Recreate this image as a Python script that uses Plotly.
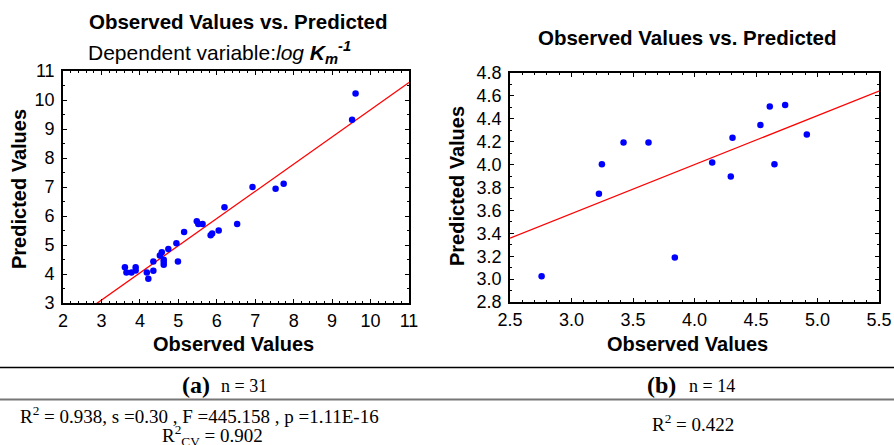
import numpy as np
import plotly.graph_objects as go

# ---- data (a) ----
obs_a = [3.61, 3.65, 3.78, 3.89, 3.89, 4.18, 4.22, 4.35, 4.35, 4.52, 4.57, 4.62, 4.62, 4.62,
         4.74, 4.95, 4.99, 5.15, 5.48, 5.52, 5.63, 5.84, 5.88, 6.05, 6.20, 6.53, 6.93, 7.53,
         7.74, 9.52, 9.61]
pred_a = [4.23, 4.05, 4.05, 4.23, 4.12, 4.05, 3.84, 4.43, 4.11, 4.64, 4.75, 4.49, 4.41, 4.32,
          4.86, 5.06, 4.43, 5.45, 5.82, 5.72, 5.72, 5.34, 5.40, 5.50, 6.30, 5.72, 7.00, 6.94,
          7.11, 9.32, 10.22]
xticks_a = [2, 3, 4, 5, 6, 7, 8, 9, 10, 11]
yticks_a = [3, 4, 5, 6, 7, 8, 9, 10, 11]

# ---- data (b) ----
obs_b = [2.757, 3.223, 3.247, 3.423, 3.626, 3.840, 4.144, 4.295, 4.309, 4.536, 4.612, 4.650,
         4.737, 4.913]
pred_b = [3.025, 3.746, 4.003, 4.193, 4.193, 3.188, 4.018, 3.895, 4.234, 4.345, 4.508, 4.003,
          4.520, 4.263]
xticks_b = [2.5, 3.0, 3.5, 4.0, 4.5, 5.0, 5.5]
yticks_b = [2.8, 3.0, 3.2, 3.4, 3.6, 3.8, 4.0, 4.2, 4.4, 4.6, 4.8]

W, H = 894, 445
SANS = "Liberation Sans, Arial, sans-serif"
SERIF = "Liberation Serif, Times New Roman, serif"

ka, ba = np.polyfit(obs_a, pred_a, 1)
kb, bb = np.polyfit(obs_b, pred_b, 1)
lx_a = np.array([xticks_a[0], xticks_a[-1]])
lx_b = np.array([xticks_b[0], xticks_b[-1]])

fig = go.Figure()
fig.add_trace(go.Scatter(x=lx_a, y=ka * lx_a + ba, mode="lines",
                         line=dict(color="#ff0000", width=1.3), xaxis="x", yaxis="y",
                         showlegend=False, hoverinfo="skip"))
fig.add_trace(go.Scatter(x=obs_a, y=pred_a, mode="markers",
                         marker=dict(color="#0000ff", size=6.5), xaxis="x", yaxis="y",
                         showlegend=False, cliponaxis=False))
fig.add_trace(go.Scatter(x=lx_b, y=kb * lx_b + bb, mode="lines",
                         line=dict(color="#ff0000", width=1.3), xaxis="x2", yaxis="y2",
                         showlegend=False, hoverinfo="skip"))
fig.add_trace(go.Scatter(x=obs_b, y=pred_b, mode="markers",
                         marker=dict(color="#0000ff", size=6.5), xaxis="x2", yaxis="y2",
                         showlegend=False, cliponaxis=False))

def px(x):
    return x / W

def py(y):
    return 1 - y / H

common = dict(showline=True, linecolor="black", linewidth=1.6, mirror="ticks",
              ticks="inside", ticklen=4, tickwidth=1.2, tickcolor="black",
              showgrid=False, zeroline=False, fixedrange=True, automargin=False,
              tickfont=dict(family=SANS, size=18, color="black"))

fig.update_layout(
    template="none",
    width=W, height=H, margin=dict(l=0, r=0, t=0, b=0, autoexpand=False),
    paper_bgcolor="white", plot_bgcolor="white",
    xaxis=dict(domain=[px(63), px(409)], range=[xticks_a[0], xticks_a[-1]],
               tickvals=xticks_a, ticktext=[str(v) for v in xticks_a],
               minor=dict(dtick=0.2, ticks="inside", ticklen=2, tickcolor="black"),
               anchor="y", ticklabelstandoff=1, **common),
    yaxis=dict(domain=[py(303), py(71)], range=[yticks_a[0], yticks_a[-1]],
               tickvals=yticks_a, ticktext=[str(v) for v in yticks_a],
               minor=dict(dtick=0.5, ticks="inside", ticklen=2, tickcolor="black"),
               anchor="x", ticklabelstandoff=3, **common),
    xaxis2=dict(domain=[px(510), px(879)], range=[xticks_b[0], xticks_b[-1]],
                tickvals=xticks_b, ticktext=[f"{v:.1f}" for v in xticks_b],
                minor=dict(dtick=0.1, ticks="inside", ticklen=2, tickcolor="black"),
                anchor="y2", ticklabelstandoff=1, **common),
    yaxis2=dict(domain=[py(302), py(73)], range=[yticks_b[0], yticks_b[-1]],
                tickvals=yticks_b, ticktext=[f"{v:.1f}" for v in yticks_b],
                minor=dict(dtick=0.1, ticks="inside", ticklen=2, tickcolor="black"),
                anchor="x2", ticklabelstandoff=3, **common),
)

ann = []

def add(text, x, y, size, family=SANS, angle=0, xanchor="center", color="black"):
    ann.append(dict(text=text, x=px(x), y=py(y), xref="paper", yref="paper",
                    xanchor=xanchor, yanchor="middle", showarrow=False, textangle=angle,
                    font=dict(family=family, size=size, color=color)))

add("<b>Observed Values vs. Predicted</b>", 238, 22, 20.5)
add("Dependent variable:<i>log</i> <b><i>K<sub>m</sub><sup>-1</sup></i></b>", 219, 52, 21)
add("<b>Observed Values vs. Predicted</b>", 687, 37, 20.5)
add("<b>Observed Values</b>", 233, 344, 20)
add("<b>Observed Values</b>", 687, 344, 20)
add("<b>Predicted Values</b>", 19, 189, 20, angle=-90)
add("<b>Predicted Values</b>", 457, 186, 20, angle=-90)

# table below the charts
add("<b>(a)</b>", 196, 385, 24, family=SERIF)
add("n = 31", 244, 386, 18, family=SERIF)
add("<b>(b)</b>", 661, 385, 24, family=SERIF)
add("n = 14", 712, 386, 18, family=SERIF)
add("R<sup>2</sup> = 0.938, s =0.30 , F =445.158 , p =1.11E-16", 18, 415, 19,
    family=SERIF, xanchor="left")
add("R<sup>2</sup><sub>CV</sub> = 0.902", 212, 435, 19, family=SERIF)
add("R<sup>2</sup> = 0.422", 693, 423, 19, family=SERIF)
fig.update_layout(annotations=ann)

fig.update_layout(shapes=[
    dict(type="line", xref="paper", yref="paper", x0=0, x1=1, y0=py(367.5), y1=py(367.5),
         line=dict(color="black", width=1.5)),
    dict(type="line", xref="paper", yref="paper", x0=0, x1=1, y0=py(399.5), y1=py(399.5),
         line=dict(color="#777777", width=2)),
])

fig.write_html("out.html")
